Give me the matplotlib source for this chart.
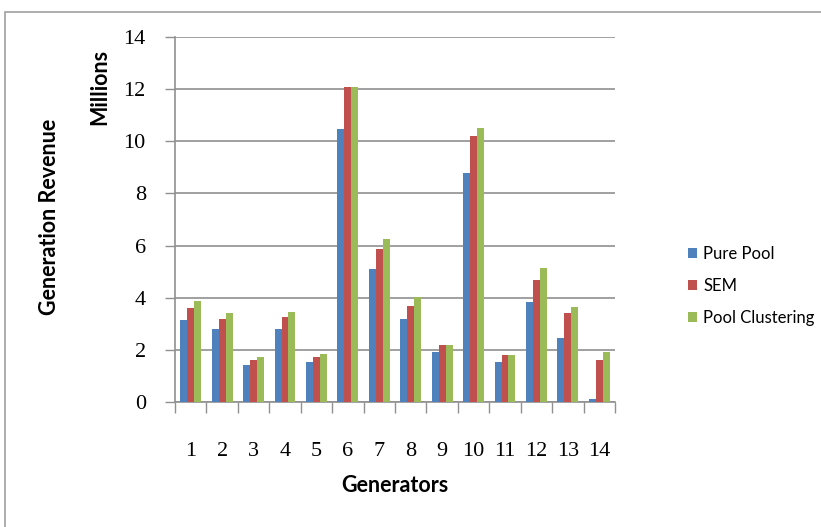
import numpy as np
import matplotlib.pyplot as plt
from matplotlib.patches import Rectangle

# data (millions)
generators = ['1', '2', '3', '4', '5', '6', '7', '8', '9', '10', '11', '12', '13', '14']
pure_pool = [3.14, 2.79, 1.41, 2.79, 1.53, 10.46, 5.09, 3.19, 1.91, 8.79, 1.53, 3.85, 2.47, 0.13]
sem = [3.59, 3.19, 1.63, 3.26, 1.74, 12.08, 5.86, 3.69, 2.19, 10.19, 1.81, 4.69, 3.41, 1.60]
pool_clustering = [3.87, 3.41, 1.74, 3.46, 1.86, 12.08, 6.26, 4.01, 2.19, 10.51, 1.81, 5.13, 3.63, 1.91]
series_names = ['Pure Pool', 'SEM', 'Pool Clustering']
colors = ['#4F81BD', '#C0504D', '#9BBB59']

fig = plt.figure(figsize=(8.21, 5.27), dpi=100)
fig.patch.set_facecolor('white')

# outer chart border (only left/top visible in the original)
fig.patches.append(Rectangle((5 / 821, -0.1), 1.2, 1.1 - 12 / 527,
                             transform=fig.transFigure, fill=False,
                             edgecolor='#a0a0a0', linewidth=1.2))

ax = fig.add_axes([175 / 821, 125 / 527, 440 / 821, 365 / 527])

x = np.arange(len(generators))
w = 0.22
for i, (vals, name) in enumerate(zip([pure_pool, sem, pool_clustering], series_names)):
    ax.bar(x + (i - 1) * w, vals, width=w, color=colors[i], label=name, zorder=3)

ax.set_xlim(-0.5, len(generators) - 0.5)
ax.set_ylim(0, 14)
ax.set_yticks(np.arange(0, 15, 2))
ax.yaxis.grid(True, color='#909090', linewidth=1.2, zorder=0)

# x ticks between categories, labels at centers
ax.set_xticks(np.arange(-0.5, len(generators), 1.0))
ax.set_xticklabels([])
ax.set_xticks(x, minor=True)
ax.set_xticklabels(generators, minor=True)
ax.tick_params(axis='x', which='minor', length=0, pad=29)
ax.tick_params(axis='x', which='major', length=8, color='#909090', width=1)
ax.tick_params(axis='y', length=7, color='#909090', width=1, pad=14)

for lab in ax.get_yticklabels() + ax.get_xticklabels(minor=True):
    lab.set_fontfamily('Liberation Serif')
    lab.set_fontsize(16)

for s in ['top', 'right']:
    ax.spines[s].set_visible(False)
for s in ['left', 'bottom']:
    ax.spines[s].set_color('#909090')
    ax.spines[s].set_linewidth(1.2)

lab_font = dict(family='Lato', weight='bold', size=15.5)
fig.text(50 / 821, 1 - 217 / 527, 'Generation Revenue', rotation=90,
         ha='center', va='center', **lab_font)
fig.text(100 / 821, 1 - 87 / 527, 'Millions', rotation=90,
         ha='center', va='center', **lab_font)
fig.text(395 / 821, 1 - 485 / 527, 'Generators', ha='center', va='center', **lab_font)

leg = ax.legend(loc='center left', bbox_to_anchor=(688 / 821, 1 - 286 / 527),
                bbox_transform=fig.transFigure, frameon=False,
                prop=dict(family='Lato', size=12), handlelength=0.55,
                handleheight=0.55, handletextpad=0.35, labelspacing=0.95,
                borderpad=0, borderaxespad=0)

fig.savefig('out.png', dpi=100)
